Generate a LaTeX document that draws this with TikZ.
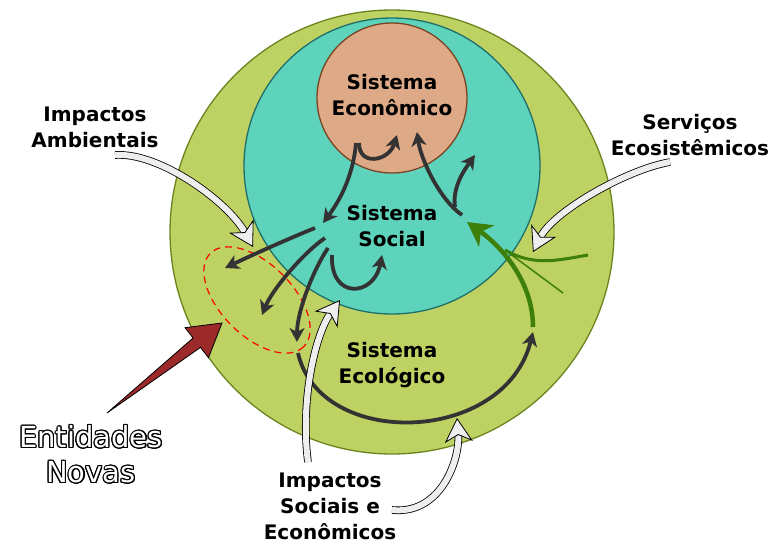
\documentclass[tikz,border=0pt]{standalone}
\usepackage{fontspec}
\setmainfont{DejaVu Sans}
\usepackage{contour}
\contourlength{1.1pt}
\usetikzlibrary{arrows.meta}

\definecolor{ecogreen}{HTML}{BDD262}
\definecolor{ecoline}{HTML}{6B8420}
\definecolor{socteal}{HTML}{5ED3BB}
\definecolor{socline}{HTML}{1E6F6A}
\definecolor{econorange}{HTML}{DEA986}
\definecolor{econline}{HTML}{7A4322}
\definecolor{flowgray}{HTML}{333333}
\definecolor{servgreen}{HTML}{3D7F0B}
\definecolor{novared}{HTML}{9C2A2A}
\definecolor{impwhite}{HTML}{EEEEEE}

\tikzset{
  lbl/.style={font=\bfseries\fontsize{20}{26}\selectfont, align=center, inner sep=0pt},
  novas/.style={font=\fontsize{29}{35}\selectfont, text=white, align=center, inner sep=0pt},
  flow/.style={draw=flowgray, line width=3.8pt, -{Stealth[length=14pt,width=15pt,inset=4pt]}},
  servflow/.style={draw=servgreen, line width=4.5pt, -{Stealth[length=24pt,width=26pt,inset=7pt]}},
  impact/.style={draw=black, line width=0.8pt, double=impwhite, double distance=6pt,
    -{Stealth[length=24pt,width=28pt,inset=7pt,fill=impwhite]}}
}

\begin{document}
\begin{tikzpicture}[x=1pt,y=-1pt]
  \useasboundingbox (0,0) rectangle (782,543);
  \draw[fill=ecogreen, draw=ecoline, line width=1.3pt] (392,232) circle (222);
  \draw[fill=socteal, draw=socline, line width=1.3pt] (392,166) circle (148);
  \draw[fill=econorange, draw=econline, line width=1.3pt] (392,98) circle (75);
  \draw[red, dashed, dash pattern=on 7pt off 5pt, line width=1.2pt, rotate around={-45:(257,300)}] (257,300) ellipse (66 and 36);

  \node[lbl] (econ) at (392,95) {Sistema\\Econômico};
  \node[lbl] (social) at (392,226) {Sistema\\Social};
  \node[lbl] (eco) at (392,365) {Sistema\\Ecológico};
  \node[lbl] (ambient) at (95,127) {Impactos\\Ambientais};
  \node[lbl] (servicos) at (690,135) {Serviços\\Ecosistêmicos};
  \node[lbl] (sociais) at (330,506) {Impactos\\Sociais e\\Econômicos};
  \node[novas] (novas) at (91,455) {\contour{black}{Entidades}\\\contour{black}{Novas}};

  \coordinate (el-s) at (359,143); \coordinate (el-t) at (397,135);
  \coordinate (es-s) at (356,143); \coordinate (es-t) at (323,223);
  \coordinate (se-s) at (462,215); \coordinate (se-t) at (417,132);
  \coordinate (ss-s) at (455,207); \coordinate (ss-t) at (475,155);
  \coordinate (sa-s) at (315,228); \coordinate (sa-t) at (225,268);
  \coordinate (sb-s) at (325,238); \coordinate (sb-t) at (262,315);
  \coordinate (sc-s) at (328,248); \coordinate (sc-t) at (297,342);
  \coordinate (sl-s) at (332,255); \coordinate (sl-t) at (382,255);
  \coordinate (eco-s) at (298,353); \coordinate (eco-t) at (533,332);
  \coordinate (gs) at (533,327); \coordinate (gt) at (467,222);
  \coordinate (g1) at (588,255); \coordinate (g2) at (563,293);
  \coordinate (gj) at (505,250);
  \coordinate (wa-s) at (115,155); \coordinate (wa-t) at (253,247);
  \coordinate (ws-s) at (670,162); \coordinate (ws-t) at (533,252);
  \coordinate (wl-s) at (308,462); \coordinate (wl-t) at (340,300);
  \coordinate (wr-s) at (392,510); \coordinate (wr-t) at (457,418);
  \coordinate (en-s) at (107,413); \coordinate (en-t) at (222,323);

  \draw[flow] (el-s) .. controls +(0,24) and +(-8,26) .. (el-t);
  \draw[flow] (es-s) .. controls +(-3,35) and +(15,-20) .. (es-t);
  \draw[flow] (se-s) .. controls +(-22,-15) and +(4,28) .. (se-t);
  \draw[flow] (ss-s) .. controls +(-3,-20) and +(-10,14) .. (ss-t);
  \draw[flow] (sa-s) .. controls +(-25,10) and +(25,-12) .. (sa-t);
  \draw[flow] (sb-s) .. controls +(-22,15) and +(10,-25) .. (sb-t);
  \draw[flow] (sc-s) .. controls +(-15,22) and +(0,-30) .. (sc-t);
  \draw[flow] (sl-s) .. controls +(-2,45) and +(-8,42) .. (sl-t);
  \draw[flow] (eco-s) .. controls +(22,97) and +(-28,113) .. (eco-t);

  \draw[servgreen, line width=3pt] (g1) to[out=190,in=-30] (gj);
  \draw[servgreen, line width=1.5pt] (g2) -- (gj);
  \draw[servflow] (gs) .. controls +(0,-45) and +(35,25) .. (gt);

  \draw[impact] (wa-s) .. controls +(45,-3) and +(-25,-45) .. (wa-t);
  \draw[impact] (ws-s) .. controls +(-45,8) and +(20,-40) .. (ws-t);
  \draw[impact] (wl-s) .. controls +(-8,-60) and +(-25,35) .. (wl-t);
  \draw[impact] (wr-s) .. controls +(50,5) and +(3,40) .. (wr-t);

  \filldraw[fill=novared, draw=black, line width=0.8pt] (en-s) -- (200.5,347.4) -- (208.5,357.7) -- (en-t) -- (185.1,327.7) -- (193.1,338) -- cycle;
\end{tikzpicture}
\end{document}
